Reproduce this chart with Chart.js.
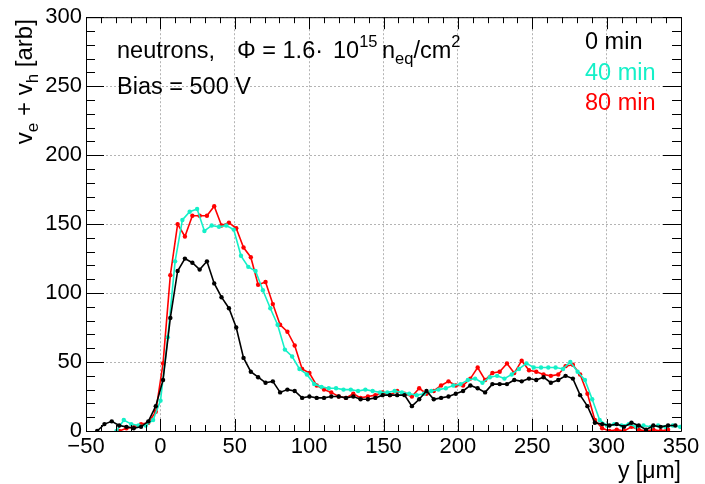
<!DOCTYPE html>
<html>
<head>
<meta charset="utf-8">
<script src="https://cdn.jsdelivr.net/npm/chart.js@4.4.0/dist/chart.umd.min.js"></script>
<style>
    html, body { margin: 0; padding: 0; background: #fff; }
</style>
</head>
<body>
<canvas id="velocityChart" width="705" height="484"></canvas>
<script>
// Drift velocity profiles v_e + v_h across the sensor depth, three annealing steps

// scan positions [um] - 0 min and 80 min share the stage grid
const scanY0 = [
    -42.5, -37.6, -32.7, -27.7, -22.8, -17.9, -13.0, -8.1, -3.1, 1.8,
    6.7, 11.6, 16.5, 21.5, 26.4, 31.3, 36.2, 41.1, 46.1, 51.0,
    55.9, 60.8, 65.7, 70.7, 75.6, 80.5, 85.4, 90.3, 95.3, 100.2,
    105.1, 110.0, 114.9, 119.9, 124.8, 129.7, 134.6, 139.5, 144.5, 149.4,
    154.3, 159.2, 164.1, 169.1, 174.0, 178.9, 183.8, 188.7, 193.7, 198.6,
    203.5, 208.4, 213.3, 218.3, 223.2, 228.1, 233.0, 237.9, 242.9, 247.8,
    252.7, 257.6, 262.5, 267.5, 272.4, 277.3, 282.2, 287.1, 292.1, 297.0,
    301.9, 306.8, 311.7, 316.7, 321.6, 326.5, 331.4, 336.3, 341.3, 346.2
];
const vel0 = [
    0, 5, 7, 4, 3, 2, 3, 7, 18, 37,
    82, 116, 125, 122, 117, 123, 107, 97, 89, 75,
    53, 43, 39, 35, 36, 28, 30, 29, 24, 25,
    24, 24, 25, 25, 24, 25, 23, 23, 24, 26,
    26, 26, 26, 18, 23, 29, 23, 24, 25, 27,
    29, 33, 31, 28, 34, 34, 34, 37, 36, 38,
    37, 39, 35, 37, 40, 38, 26, 18, 6, 5,
    4, 5, 3, 6, 4, 1, 4, 3, 4, 4
];

const scanY40 = [
    -29.5, -24.6, -19.6, -14.7, -9.8, -4.9, 0.1, 5.0,
    9.9, 14.8, 19.7, 24.7, 29.6, 34.5, 39.4, 44.3, 49.3, 54.2,
    59.1, 64.0, 68.9, 73.9, 78.8, 83.7, 88.6, 93.5, 98.5, 103.4,
    108.3, 113.2, 118.1, 123.1, 128.0, 132.9, 137.8, 142.7, 147.7, 152.6,
    157.5, 162.4, 167.3, 172.3, 177.2, 182.1, 187.0, 191.9, 196.9, 201.8,
    206.7, 211.6, 216.5, 221.5, 226.4, 231.3, 236.2, 241.1, 246.1, 251.0,
    255.9, 260.8, 265.7, 270.7, 275.6, 280.5, 285.4, 290.3, 295.3, 300.2,
    305.1, 310.0, 314.9, 319.9, 324.8, 329.7, 334.6, 339.5, 344.5, 349.4
];
const vel40 = [
    0, 8, 5, 4, 4, 8, 22, 68,
    123, 153, 159, 161, 145, 149, 148, 149, 146, 127,
    119, 116, 102, 89, 77, 59, 54, 45, 41, 34,
    32, 31, 31, 30, 30, 29, 30, 29, 28, 28,
    29, 28, 27, 26, 27, 29, 30, 31, 33, 34,
    37, 38, 35, 39, 40, 38, 41, 45, 49, 46,
    46, 46, 46, 45, 50, 43, 37, 23, 8, 4,
    5, 4, 5, 3, 4, 3, 4, 3, 4, 3
];

const scanY80 = [
    -27.7, -22.8, -17.9, -13.0, -8.1, -3.1, 1.8,
    6.7, 11.6, 16.5, 21.5, 26.4, 31.3, 36.2, 41.1, 46.1, 51.0,
    55.9, 60.8, 65.7, 70.7, 75.6, 80.5, 85.4, 90.3, 95.3, 100.2,
    105.1, 110.0, 114.9, 119.9, 124.8, 129.7, 134.6, 139.5, 144.5, 149.4,
    154.3, 159.2, 164.1, 169.1, 174.0, 178.9, 183.8, 188.7, 193.7, 198.6,
    203.5, 208.4, 213.3, 218.3, 223.2, 228.1, 233.0, 237.9, 242.9, 247.8,
    252.7, 257.6, 262.5, 267.5, 272.4, 277.3, 282.2, 287.1, 292.1, 297.0,
    301.9, 306.8, 311.7, 316.7, 321.6, 326.5, 331.4, 336.3, 341.3
];
const vel80 = [
    0, 2, 3, 5, 6, 14, 49,
    113, 150, 141, 156, 156, 156, 163, 149, 151, 147,
    133, 126, 106, 108, 92, 77, 72, 62, 45, 42,
    33, 30, 28, 25, 24, 27, 24, 25, 26, 28,
    26, 29, 27, 25, 31, 27, 29, 33, 36, 33,
    33, 38, 46, 37, 42, 43, 49, 42, 51, 44,
    43, 41, 40, 41, 47, 48, 41, 27, 8, 2,
    0, 1, 0, 3, 1, 0, 1, 0, 1
];

const seriesNames = ['0 min', '40 min', '80 min'];
const seriesColors = ['#000000', '#14f0c8', '#ff0000'];

const xTicks = [-50, 0, 50, 100, 150, 200, 250, 300, 350];
const yTicks = [0, 50, 100, 150, 200, 250, 300];

const FONT = '"Liberation Sans", Arial, Helvetica, sans-serif';

function makeSet(label, xs, ys, color) {
    return {
        label: label,
        data: xs.map((x, i) => ({ x: x, y: ys[i] })),
        showLine: true,
        borderColor: color,
        backgroundColor: color,
        borderWidth: 1.6,
        pointRadius: 2.2,
        pointBorderWidth: 0,
        pointBackgroundColor: color,
        tension: 0
    };
}

// draw a list of text pieces left to right; sup/sub pieces are smaller and shifted
function drawRuns(ctx, runs, x, y, color) {
    let cx = x;
    ctx.fillStyle = color;
    ctx.textBaseline = 'alphabetic';
    ctx.textAlign = 'left';
    runs.forEach(r => {
        if (r.at !== undefined) cx = r.at;
        ctx.font = (r.size || 23) + 'px ' + FONT;
        ctx.fillText(r.t, cx, y + (r.dy || 0));
        cx += ctx.measureText(r.t).width;
    });
    return cx - x;
}

function runsWidth(ctx, runs) {
    return runs.reduce((w, r) => {
        ctx.font = (r.size || 23) + 'px ' + FONT;
        return w + ctx.measureText(r.t).width;
    }, 0);
}

// ROOT-like frame: box, inward ticks on all four sides, axis titles and labels
const frameDecor = {
    id: 'frameDecor',
    afterDraw(chart) {
        const ctx = chart.ctx;
        const a = chart.chartArea;
        const xs = chart.scales.x;
        const ys = chart.scales.y;

        ctx.save();
        ctx.strokeStyle = '#000';
        ctx.lineWidth = 1;
        ctx.beginPath();
        ctx.rect(a.left + 0.5, a.top + 0.5, a.right - a.left, a.bottom - a.top);
        ctx.stroke();

        ctx.beginPath();
        for (let v = xs.min; v <= xs.max; v += 10) {
            const px = Math.round(xs.getPixelForValue(v)) + 0.5;
            const len = v % 50 === 0 ? 12 : 6;
            ctx.moveTo(px, a.bottom);
            ctx.lineTo(px, a.bottom - len);
            ctx.moveTo(px, a.top);
            ctx.lineTo(px, a.top + len);
        }
        for (let v = ys.min; v <= ys.max; v += 10) {
            const py = Math.round(ys.getPixelForValue(v)) + 0.5;
            const len = v % 50 === 0 ? 18 : 9;
            ctx.moveTo(a.left, py);
            ctx.lineTo(a.left + len, py);
            ctx.moveTo(a.right, py);
            ctx.lineTo(a.right - len, py);
        }
        ctx.stroke();

        // x axis title
        const xTitle = [{ t: 'y [μm]', size: 23 }];
        drawRuns(ctx, xTitle, a.right - runsWidth(ctx, xTitle), 478, '#000');

        // y axis title, rotated and aligned to the top of the axis
        const yTitle = [
            { t: 'v', size: 24 },
            { t: 'e', size: 17, dy: 6 },
            { t: ' + v', size: 24 },
            { t: 'h', size: 17, dy: 6 },
            { t: ' [arb]', size: 24 }
        ];
        ctx.save();
        ctx.translate(32, a.top + 2);
        ctx.rotate(-Math.PI / 2);
        drawRuns(ctx, yTitle, -runsWidth(ctx, yTitle), 0, '#000');
        ctx.restore();

        // sample description
        drawRuns(ctx, [
            { t: 'neutrons,', size: 23.5 },
            { t: 'Φ = 1.6·', size: 23.5, at: 237 },
            { t: '10', size: 23.5, at: 333 },
            { t: '15', size: 16.5, dy: -11 },
            { t: 'n', size: 23.5, at: 382 },
            { t: 'eq', size: 16.5, dy: 6 },
            { t: '/cm', size: 23.5 },
            { t: '2', size: 16.5, dy: -11 }
        ], 117, 58, '#000');
        drawRuns(ctx, [{ t: 'Bias = 500 V', size: 23.5 }], 117, 94, '#000');

        // legend as coloured labels
        const legendBase = [49, 80, 110];
        seriesNames.forEach((name, i) => {
            drawRuns(ctx, [{ t: name, size: 23.5 }], 585, legendBase[i], seriesColors[i]);
        });
        ctx.restore();
    }
};

new Chart(document.getElementById('velocityChart'), {
    type: 'scatter',
    data: {
        datasets: [
            makeSet(seriesNames[0], scanY0, vel0, seriesColors[0]),
            makeSet(seriesNames[1], scanY40, vel40, seriesColors[1]),
            makeSet(seriesNames[2], scanY80, vel80, seriesColors[2])
        ]
    },
    options: {
        responsive: false,
        devicePixelRatio: 1,
        animation: false,
        layout: {
            padding: { top: 16, right: 24, left: 0, bottom: 0 }
        },
        plugins: {
            legend: { display: false },
            tooltip: { enabled: false }
        },
        scales: {
            x: {
                type: 'linear',
                min: -50,
                max: 350,
                afterBuildTicks: (scale) => {
                    scale.ticks = xTicks.map(v => ({ value: v }));
                },
                afterFit: (scale) => {
                    scale.height = 53;
                },
                ticks: {
                    color: '#000',
                    padding: 3,
                    maxRotation: 0,
                    autoSkip: false,
                    font: { family: FONT, size: 22 },
                    callback: (v) => String(v).replace('-', '\u2212')
                },
                grid: {
                    color: '#b4b4b4',
                    lineWidth: 1,
                    drawTicks: false
                },
                border: { display: false, dash: [2, 2] }
            },
            y: {
                type: 'linear',
                min: 0,
                max: 300,
                afterBuildTicks: (scale) => {
                    scale.ticks = yTicks.map(v => ({ value: v }));
                },
                afterFit: (scale) => {
                    scale.width = 86;
                },
                ticks: {
                    color: '#000',
                    padding: 4,
                    autoSkip: false,
                    font: { family: FONT, size: 22 }
                },
                grid: {
                    color: '#b4b4b4',
                    lineWidth: 1,
                    drawTicks: false
                },
                border: { display: false, dash: [2, 2] }
            }
        }
    },
    plugins: [frameDecor]
});
</script>
</body>
</html>
